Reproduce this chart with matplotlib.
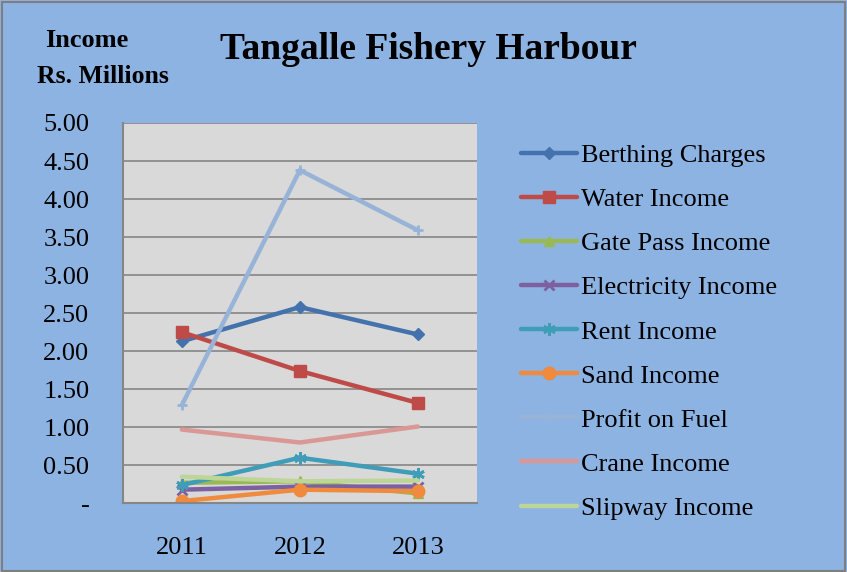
import matplotlib
matplotlib.use("Agg")
import matplotlib.pyplot as plt

years = ["2011", "2012", "2013"]
series_names = ["Berthing Charges", "Water Income", "Gate Pass Income",
                "Electricity Income", "Rent Income", "Sand Income",
                "Profit on Fuel", "Crane Income", "Slipway Income"]
berthing = [2.13, 2.58, 2.22]
water = [2.25, 1.74, 1.32]
gate_pass = [0.27, 0.29, 0.13]
electricity = [0.18, 0.22, 0.22]
rent = [0.24, 0.60, 0.39]
sand = [0.03, 0.18, 0.16]
profit_fuel = [1.29, 4.38, 3.59]
crane = [0.97, 0.80, 1.01]
slipway = [0.35, 0.29, 0.30]
y_ticks = [0, 0.5, 1.0, 1.5, 2.0, 2.5, 3.0, 3.5, 4.0, 4.5, 5.0]
y_tick_labels = ["-", "0.50", "1.00", "1.50", "2.00", "2.50", "3.00", "3.50", "4.00", "4.50", "5.00"]

values = [berthing, water, gate_pass, electricity, rent, sand, profit_fuel, crane, slipway]
colors = ["#4472AD", "#BE4B48", "#98B954", "#7D60A0", "#3F9DB8", "#F08A3C",
          "#97B3D8", "#D99795", "#BDD597"]
markers = ["D", "s", "^", "x", (6, 2, 0), "o", "+", None, None]
msizes = [6, 8, 7, 7, 9, 9, 7, 0, 0]

plt.rcParams['font.family'] = ['Liberation Serif', 'DejaVu Serif']

fig = plt.figure(figsize=(8.47, 5.72), dpi=100, facecolor="#8DB3E2")
fig.patches.append(plt.Rectangle((0.002, 0.002), 0.996, 0.994, transform=fig.transFigure,
                                 fill=False, edgecolor="#7F7F7F", linewidth=1.5))
ax = fig.add_axes([0.145, 0.120, 0.418, 0.665])
ax.set_facecolor("#D9D9D9")
x = list(range(len(years)))
handles = []
for name, vals, c, m, ms in zip(series_names, values, colors, markers, msizes):
    ln, = ax.plot(x, vals, color=c, linewidth=3.2, marker=m, markersize=ms,
                  markeredgewidth=2 if m in ("x", "+", (6, 2, 0)) else 1,
                  markeredgecolor=c, markerfacecolor=c, label=name, solid_capstyle='round')
    handles.append(ln)

ax.set_xlim(-0.5, 2.5)
ax.set_ylim(0, 5)
ax.set_yticks(y_ticks)
ax.set_yticklabels(y_tick_labels)
ax.set_xticks(x)
ax.set_xticklabels(years)
ax.grid(axis='y', color="#868686", linewidth=1.2)
ax.set_axisbelow(True)
for s in ["top", "right"]:
    ax.spines[s].set_visible(False)
ax.spines["left"].set_color("#868686")
ax.spines["left"].set_linewidth(1.5)
ax.spines["bottom"].set_color("#868686")
ax.spines["bottom"].set_linewidth(1.5)
ax.tick_params(axis='y', length=0, pad=24, labelsize=19)
ax.tick_params(axis='x', length=0, pad=24, labelsize=19)
for lab in ax.get_yticklabels():
    lab.set_horizontalalignment('right')

fig.text(0.103, 0.93, "Income", ha='center', va='center', fontsize=19, fontweight='bold')
fig.text(0.122, 0.867, "Rs. Millions", ha='center', va='center', fontsize=18.5, fontweight='bold')
fig.text(0.506, 0.913, "Tangalle Fishery Harbour", ha='center', va='center',
         fontsize=27, fontweight='bold')

leg = fig.legend(handles=handles, loc='upper left', bbox_to_anchor=(0.603, 0.767),
                 frameon=False, fontsize=19, handlelength=2.1, handletextpad=0.15,
                 labelspacing=0.78, borderaxespad=0)

fig.savefig("out.png", dpi=100, facecolor=fig.get_facecolor())
